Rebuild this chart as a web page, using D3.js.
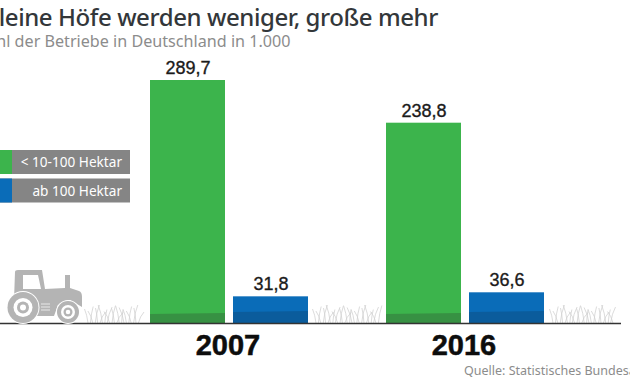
<!DOCTYPE html>
<html>
<head>
<meta charset="utf-8">
<script src="https://cdn.jsdelivr.net/npm/d3@7"></script>
<style>
html, body { margin: 0; padding: 0; background: #fff; overflow: hidden; }
text { font-family: "Noto Sans", sans-serif; }
</style>
</head>
<body>
<svg class="chart" width="630" height="380"></svg>
<script>
const years = ["2007", "2016"]
const seriesNames = ["< 10-100 Hektar", "ab 100 Hektar"]
const smallFarms = [289.7, 238.8]
const bigFarms = [31.8, 36.6]
const valueLabels = [["289,7", "238,8"], ["31,8", "36,6"]]
const colors = ["#3cb44c", "#0a6cb8"]
const darkColors = ["#379143", "#0b5c9c"]
// lean of each grass blade, repeats along the tuft
const bladeLean = [-5, 4, -7, 6, -3, 8, -6, 3, 7, -8, 5, -4, 9, -5, 2, -7]
const bladeHeight = [28, 33, 24, 36, 30, 22, 36, 27, 32, 23, 35, 29, 21, 34, 26, 31]

const svg = d3.select(".chart")
const baseY = 323

const y_scale = d3.scaleLinear()
    .domain([0, 289.7])
    .range([baseY, 80])
const x_year = d3.scaleBand()
    .domain(years)
    .range([150, 544])
    .paddingInner(78 / 236)
    .paddingOuter(0)
const x_group = d3.scaleBand()
    .domain([0, 1])
    .range([0, 158])
    .paddingInner(8 / 83)

// title
svg.append("text").attr("x", -16).attr("y", 26)
    .attr("font-size", 24).attr("font-weight", 500).attr("fill", "#33373a")
    .attr("letter-spacing", -0.42)
    .text("Kleine Höfe werden weniger, große mehr")
svg.append("text").attr("x", -22).attr("y", 47)
    .attr("font-size", 16.15).attr("fill", "#8c8c8c")
    .text("Zahl der Betriebe in Deutschland in 1.000")

// grass
const tufts = [[84, 144], [312, 384], [549, 618]]
const grass = svg.append("g").attr("fill", "none").attr("stroke", "#d2d2d2").attr("stroke-width", 0.8)
tufts.forEach(t => {
    const p = d3.path()
    let i = 0
    for (let x = t[0] + 4; x < t[1] - 4; x += 2.4) {
        const lean = bladeLean[i % bladeLean.length]
        const h = bladeHeight[i % bladeHeight.length] * 0.5
        p.moveTo(x, baseY)
        p.quadraticCurveTo(x + lean * 0.2, baseY - h * 0.6, x + lean * 0.7, baseY - h)
        i++
    }
    grass.append("path").attr("d", p.toString())
})

// bars
const rows = [smallFarms, bigFarms]
rows.forEach((vals, s) => {
    const g = svg.append("g").attr("class", "series-" + s)
    vals.forEach((v, i) => {
        const x = x_year(years[i]) + x_group(s)
        const w = x_group.bandwidth()
        g.append("rect")
            .attr("x", x).attr("y", y_scale(v))
            .attr("width", w).attr("height", baseY - y_scale(v))
            .attr("fill", colors[s])
        // darker ground band, slightly slanted
        const top = s == 0 ? [314, 313] : [312, 311]
        g.append("path")
            .attr("d", d3.line()([[x, top[0]], [x + w, top[1]], [x + w, baseY], [x, baseY]]) + "Z")
            .attr("fill", darkColors[s])
        g.append("text")
            .attr("x", x + w / 2 + 0.5).attr("y", y_scale(v) - 6)
            .attr("text-anchor", "middle")
            .style("font-family", "'Liberation Sans', sans-serif")
            .attr("font-size", 18).attr("fill", "#1b1b1b")
            .attr("stroke", "#1b1b1b").attr("stroke-width", 0.35)
            .text(valueLabels[s][i])
    })
})

// baseline
svg.append("line").attr("x1", 0).attr("x2", 621).attr("y1", baseY + 0.5).attr("y2", baseY + 0.5)
    .attr("stroke", "#333").attr("stroke-width", 1.4)

// year labels
years.forEach(yr => {
    svg.append("text")
        .attr("x", x_year(yr) + 78).attr("y", 355)
        .attr("text-anchor", "middle")
        .style("font-family", "'Liberation Sans', sans-serif")
        .attr("font-size", 29).attr("font-weight", 700).attr("fill", "#0d0d0d")
        .attr("stroke", "#0d0d0d").attr("stroke-width", 0.5)
        .text(yr)
})

// legend
const legendY = [150, 178.5]
seriesNames.forEach((name, i) => {
    svg.append("rect").attr("x", 0).attr("y", legendY[i]).attr("width", 130).attr("height", 24).attr("fill", "#858585")
    svg.append("rect").attr("x", 0).attr("y", legendY[i]).attr("width", 12).attr("height", 24).attr("fill", colors[i])
    svg.append("text").attr("x", 122).attr("y", legendY[i] + 17)
        .attr("text-anchor", "end").attr("font-size", 13.6).attr("fill", "#fff")
        .text(name)
})

// tractor
const tractor = svg.append("g").attr("fill", "#b4b4b4")
tractor.append("path").attr("d", "M14 300 L15 272 Q15 270 18 270 L42 270 L45 289 L65 288 L65 275 L70 275 L70 288 L79 291 Q82 292 82 297 L82 307 L70 300 L58 305 L54 316 L36 316 L14 312 Z")
tractor.append("path").attr("fill", "#fff").attr("d", "M23 275 L38 275 L41 289 L23 289 Z")
tractor.append("path").attr("fill", "none").attr("stroke", "#e8e8e8").attr("stroke-width", 1)
    .attr("d", "M41 304 H50 M41 307 H50 M41 310 H50")
const wheel = (cx, cy, r, r2, r3) => {
    tractor.append("circle").attr("cx", cx).attr("cy", cy).attr("r", r + 1).attr("fill", "#fff")
    tractor.append("circle").attr("cx", cx).attr("cy", cy).attr("r", r)
    tractor.append("circle").attr("cx", cx).attr("cy", cy).attr("r", r2).attr("fill", "#fff")
    tractor.append("circle").attr("cx", cx).attr("cy", cy).attr("r", r3)
    tractor.append("circle").attr("cx", cx).attr("cy", cy).attr("r", r3 * 0.5).attr("fill", "#fff")
}
wheel(23, 307.5, 15.5, 9.5, 6)
wheel(68, 312, 11, 7, 4.5)

// source
svg.append("text").attr("x", 464).attr("y", 375)
    .attr("font-size", 12.5).attr("fill", "#8c8c8c")
    .text("Quelle: Statistisches Bundesamt")
</script>
</body>
</html>
